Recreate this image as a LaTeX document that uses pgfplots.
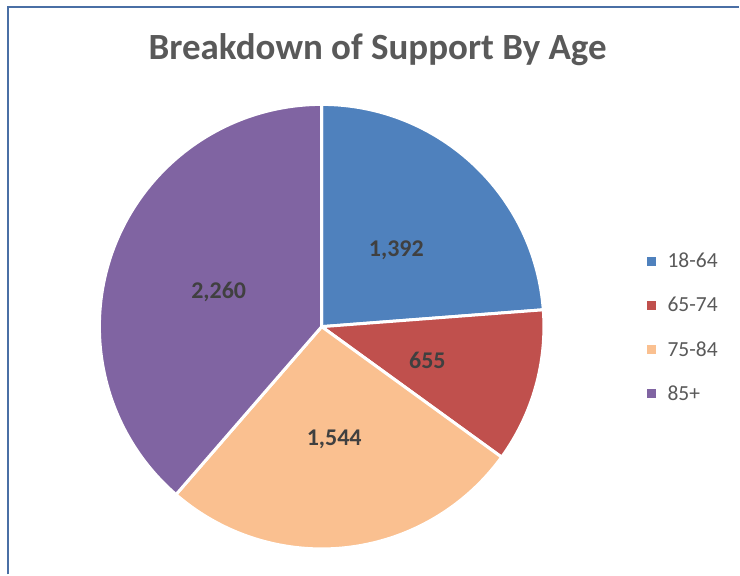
\documentclass[border=0pt]{standalone}
\usepackage{pgfplots}
\usepackage{pgfplotstable}
\usepackage{fontspec}
\setmainfont{Carlito}
\pgfplotsset{compat=1.18}
\definecolor{c0}{HTML}{4F81BD}
\definecolor{c1}{HTML}{C0504D}
\definecolor{c2}{HTML}{FAC090}
\definecolor{c3}{HTML}{8064A2}
\definecolor{titlegray}{HTML}{595959}
\definecolor{labelgray}{HTML}{404040}
\definecolor{framec}{HTML}{4A6FA5}
\pgfplotstableread{
label value
18-64 1392
65-74 655
75-84 1544
85+ 2260
}\piedata
\begin{document}
\begin{tikzpicture}
\begin{axis}[
  width=740pt,height=575pt,scale only axis,
  xmin=0,xmax=740,ymin=0,ymax=575,
  hide axis,clip=false,
  title={Breakdown of Support By Age},
  title style={at={(axis cs:378,519)},anchor=center,font=\fontsize{37}{40}\selectfont\bfseries,text=titlegray},
  legend style={draw=none,fill=none,at={(axis cs:647,324)},anchor=north west,
    row sep=24.2pt,column sep=10pt,inner sep=0pt,
    nodes={inner sep=2pt,font=\fontsize{21.5}{24}\selectfont,text=titlegray}},
  legend cell align=left,
  legend image code/.code={\fill[#1] (0pt,-4.5pt) rectangle (9pt,4.5pt);},
]
\addlegendimage{fill=c0,draw=none}\addlegendentry{18-64}
\addlegendimage{fill=c1,draw=none}\addlegendentry{65-74}
\addlegendimage{fill=c2,draw=none}\addlegendentry{75-84}
\addlegendimage{fill=c3,draw=none}\addlegendentry{85+}
\pgfplotsextra{
  \gdef\total{0}
  \foreach \i in {0,...,3}{%
    \pgfplotstablegetelem{\i}{value}\of\piedata
    \pgfmathsetmacro\t{\total+\pgfplotsretval}\global\let\total\t}
  \gdef\cum{0}
  \foreach \i in {0,...,3}{%
    \pgfplotstablegetelem{\i}{value}\of\piedata
    \let\v\pgfplotsretval
    \pgfmathsetmacro\a{90-360*(\cum/\total)}
    \pgfmathsetmacro\b{90-360*((\cum+\v)/\total)}
    \pgfmathsetmacro\m{(\a+\b)/2}
    \filldraw[fill=c\i,draw=white,line width=3pt,line join=round]
      (axis cs:322,248) -- ++(\a:222.5pt) arc[start angle=\a,end angle=\b,radius=222.5pt] -- cycle;
    \path (axis cs:322,248) ++(\m:110pt) node[yshift=-4pt,font=\fontsize{24}{27}\selectfont\bfseries,text=labelgray]
      {\pgfmathprintnumber[1000 sep={,},assume math mode=true]{\v}};
    \pgfmathsetmacro\c{\cum+\v}\global\let\cum\c
  }
  \draw[framec,line width=1.5pt] (axis cs:8,0) -- (axis cs:8,568) -- (axis cs:740,568);
  \path (axis cs:0,0) rectangle (axis cs:740,575);
}
\end{axis}
\end{tikzpicture}
\end{document}
